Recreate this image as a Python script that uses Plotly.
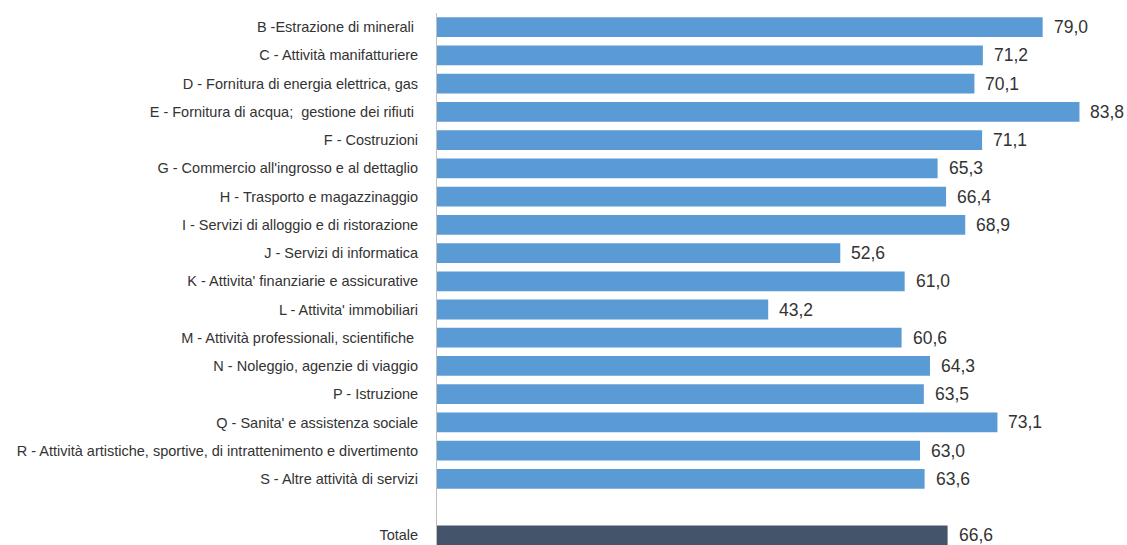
import plotly.graph_objects as go

categories = [
    "B -Estrazione di minerali ",
    "C - Attività manifatturiere",
    "D - Fornitura di energia elettrica, gas",
    "E - Fornitura di acqua;  gestione dei rifiuti ",
    "F - Costruzioni",
    "G - Commercio all'ingrosso e al dettaglio",
    "H - Trasporto e magazzinaggio",
    "I - Servizi di alloggio e di ristorazione",
    "J - Servizi di informatica",
    "K - Attivita' finanziarie e assicurative",
    "L - Attivita' immobiliari",
    "M - Attività professionali, scientifiche ",
    "N - Noleggio, agenzie di viaggio",
    "P - Istruzione",
    "Q - Sanita' e assistenza sociale",
    "R - Attività artistiche, sportive, di intrattenimento e divertimento",
    "S - Altre attività di servizi",
]
values = [79.0, 71.2, 70.1, 83.8, 71.1, 65.3, 66.4, 68.9, 52.6, 61.0, 43.2, 60.6, 64.3, 63.5, 73.1, 63.0, 63.6]
total_label = "Totale"
total_value = 66.6

FONT = "Liberation Sans Narrow, Arial Narrow, Liberation Sans, Arial, sans-serif"

pos = list(range(len(categories)))
total_pos = len(categories) + 1

def fmt(v):
    return f"{v:.1f}".replace(".", ",")

fig = go.Figure()
fig.add_trace(go.Bar(
    y=pos, x=values, orientation="h",
    marker=dict(color="#5B9BD5", line=dict(width=0)),
    width=0.7, showlegend=False, hoverinfo="skip",
))
fig.add_trace(go.Bar(
    y=[total_pos], x=[total_value], orientation="h",
    marker=dict(color="#44546A", line=dict(width=0)),
    width=0.7, showlegend=False, hoverinfo="skip",
))

for p, v in list(zip(pos, values)) + [(total_pos, total_value)]:
    fig.add_annotation(
        x=v, y=p, text=fmt(v), showarrow=False,
        xanchor="left", yanchor="middle", xshift=9,
        font=dict(family=FONT, size=17.5, color="#333333"),
    )

fig.update_layout(
    width=1127, height=545,
    margin=dict(l=437, r=0, t=13, b=0),
    plot_bgcolor="white", paper_bgcolor="white",
    bargap=0.3,
    xaxis=dict(range=[0, 90], visible=False, fixedrange=True),
    yaxis=dict(
        range=[18.34, -0.5],
        tickmode="array",
        tickvals=pos + [total_pos],
        ticktext=categories + [total_label],
        showgrid=False, zeroline=False,
        showline=True, linecolor="#BFBFBF", linewidth=1,
        ticks="", ticklabelstandoff=15,
        tickfont=dict(family=FONT, size=14.5, color="#333333"),
    ),
)

fig.write_html("out.html")
